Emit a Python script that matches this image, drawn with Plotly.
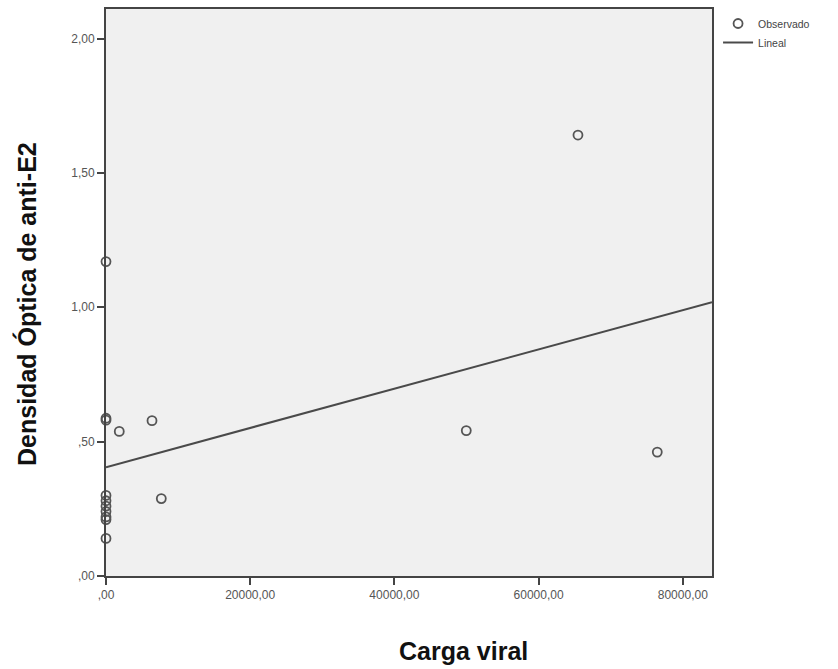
import plotly.graph_objects as go

# Observed data (Carga viral vs Densidad Óptica de anti-E2)
carga_viral = [0, 0, 0, 0, 0, 0, 0, 0, 0, 0,
               1840, 6380, 7670, 49970, 65460, 76460]
densidad_optica = [1.17, 0.587, 0.58, 0.30, 0.28, 0.26, 0.24, 0.22, 0.21, 0.14,
                   0.538, 0.578, 0.288, 0.541, 1.641, 0.461]

# Linear fit parameters
lineal_intercept = 0.405
lineal_slope = 7.3e-6

x_range = [0, 84050]
y_range = [0, 2.11]

x_tickvals = [0, 20000, 40000, 60000, 80000]
x_ticktext = [",00", "20000,00", "40000,00", "60000,00", "80000,00"]
y_tickvals = [0, 0.5, 1.0, 1.5, 2.0]
y_ticktext = [",00", ",50", "1,00", "1,50", "2,00"]

fit_x = x_range
fit_y = [lineal_intercept + lineal_slope * v for v in fit_x]

fig = go.Figure()
fig.add_trace(go.Scatter(
    x=carga_viral, y=densidad_optica, mode="markers", name="Observado",
    marker=dict(symbol="circle-open", size=9, color="#555555", line=dict(width=1.8, color="#555555")),
    cliponaxis=False,
))
fig.add_trace(go.Scatter(
    x=fit_x, y=fit_y, mode="lines", name="Lineal",
    line=dict(color="#4a4a4a", width=2),
))

axis_common = dict(
    showgrid=False, zeroline=False, showline=True, linecolor="#444444", linewidth=2,
    mirror=True, ticks="outside", ticklen=7, tickwidth=2, tickcolor="#444444",
    tickfont=dict(family="Liberation Sans, Arial", size=12, color="#555555"),
)
fig.update_xaxes(range=x_range, tickvals=x_tickvals, ticktext=x_ticktext, **axis_common)
fig.update_yaxes(range=y_range, tickvals=y_tickvals, ticktext=y_ticktext, **axis_common)

fig.update_layout(
    width=838, height=669,
    margin=dict(l=106, r=126, t=7, b=93),
    paper_bgcolor="white", plot_bgcolor="#f0f0f0",
    showlegend=True,
    legend=dict(x=1.01, y=1.0, xanchor="left", yanchor="top",
                font=dict(family="Liberation Sans, Arial", size=10.5, color="#444444"),
                bgcolor="rgba(0,0,0,0)", itemwidth=30, tracegroupgap=4),
    annotations=[
        dict(text="<b>Carga viral</b>", xref="paper", yref="paper", x=(463-106)/606, y=-(651-576)/569,
             xanchor="center", yanchor="middle", showarrow=False,
             font=dict(family="Liberation Sans, Arial", size=25, color="#111111")),
        dict(text="<b>Densidad Óptica de anti-E2</b>", xref="paper", yref="paper", x=-(106-27)/606,
             y=(576-303)/569,
             xanchor="center", yanchor="middle", showarrow=False, textangle=-90,
             font=dict(family="Liberation Sans, Arial", size=25, color="#111111")),
    ],
)

fig.write_html("out.html")
